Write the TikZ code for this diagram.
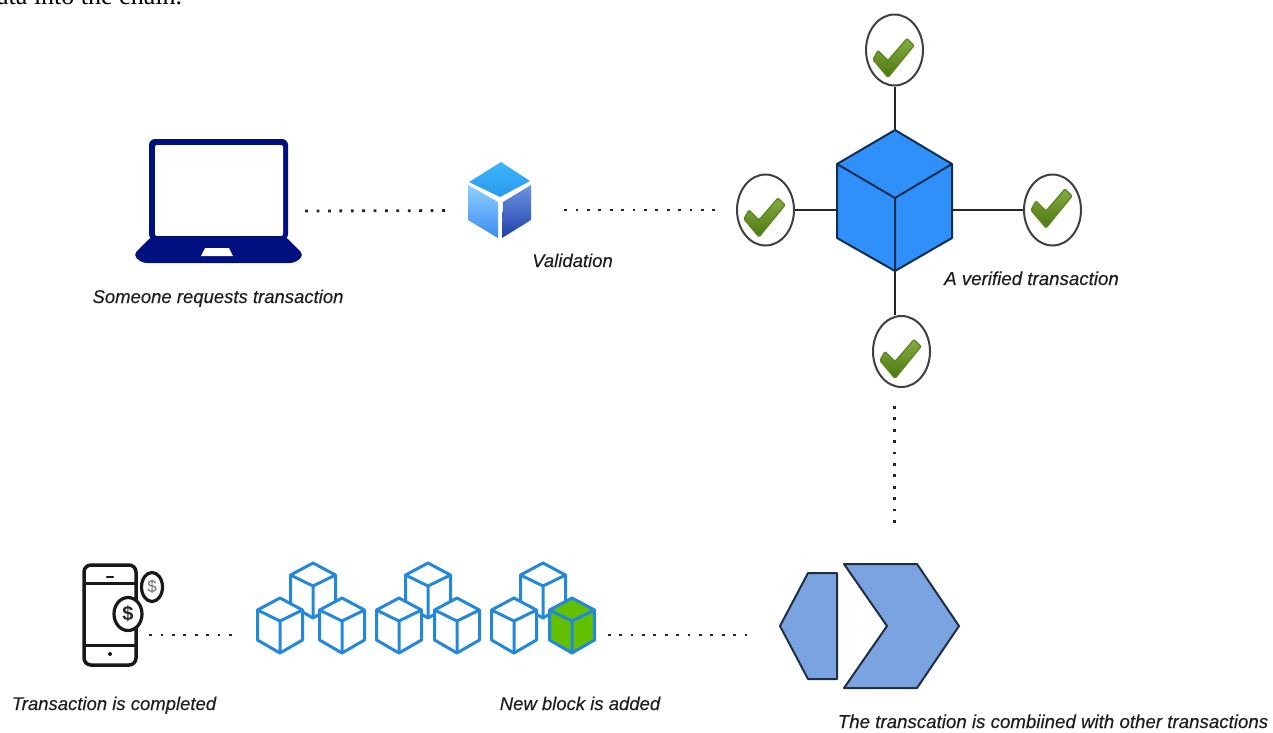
\documentclass[tikz,border=0pt]{standalone}
\usepackage{fontspec}
\setmainfont{Liberation Sans}
\newfontfamily\serifcut{Liberation Serif}
\usetikzlibrary{shapes.geometric,calc}
\definecolor{navy}{HTML}{00107F}
\definecolor{cubeblue}{HTML}{3090FA}
\definecolor{cubeedge}{HTML}{0E2F52}
\definecolor{lineblue}{HTML}{2388DC}
\definecolor{blockgreen}{HTML}{63C000}
\definecolor{hexblue}{HTML}{7BA3E0}
\definecolor{hexedge}{HTML}{1F2E45}
\definecolor{labelgrey}{HTML}{1E1E1E}
\definecolor{tickbottom}{HTML}{4C7610}
\definecolor{ticktop}{HTML}{86AD45}
\definecolor{topA}{HTML}{3CB6FA}
\definecolor{topB}{HTML}{2A98EE}
\definecolor{leftA}{HTML}{90CFFF}
\definecolor{leftB}{HTML}{3B8CF0}
\definecolor{rightA}{HTML}{6A94E2}
\definecolor{rightB}{HTML}{2040A8}
\tikzset{
  caption/.style={font=\fontsize{18.5}{20}\selectfont\itshape\addfontfeature{FakeBold=0.25}, text=labelgrey, inner sep=0pt, anchor=base},
  wide caption/.style={caption, font=\fontsize{18.7}{20}\selectfont\itshape\addfontfeature{FakeBold=0.25}},
  checkring/.style={ellipse, draw=black!75, line width=2pt, fill=white, inner sep=0pt, minimum width=57pt, minimum height=71pt},
  stem/.style={draw=black!85, line width=2pt},
  dotrow/.style={draw=black!85, line width=2.8pt, dash pattern=on 2.8pt off 8.6pt},
  ghost/.style={inner sep=0pt, draw=none},
  hexshape/.style={fill=hexblue, draw=hexedge, line width=2pt, line join=round},
  pics/tick/.style={code={
    \shadedraw[top color=ticktop, bottom color=tickbottom, draw=tickbottom!70!ticktop, line width=1.3pt, rounded corners=1.2pt]
      (-16.5,0) -- (-6.5,10) -- (12.5,-12) -- (19.5,-5) -- (-6.5,27) -- (-21.5,9) -- cycle;
  }},
  pics/block/.style={code={
    \draw[fill=#1, draw=lineblue, line width=3pt, line join=round]
      (0,-23) -- (22.5,-11) -- (22.5,19) -- (0,32) -- (-22.5,19) -- (-22.5,-11) -- cycle;
    \draw[draw=lineblue, line width=3pt, line join=round]
      (-22.5,-11) -- (0,0) -- (22.5,-11) (0,0) -- (0,32);
  }}
}
\begin{document}
\begin{tikzpicture}[x=1pt,y=-1pt]
\useasboundingbox (0,0) rectangle (1273,732);
\fill[white] (0,0) rectangle (1273,732);

% clipped line of text at the top edge
\node[font=\serifcut\fontsize{26}{28}\selectfont, inner sep=0pt, anchor=base west, text=black] (topline) at (-3,4) {ata into the chain.};

% laptop
\node[ghost, minimum width=167pt, minimum height=146pt] (laptop) at (218.5,211) {};
\fill[navy, rounded corners=6pt] (149,240) -- (149,139) -- (288,139) -- (288,240) -- cycle;
\fill[white, rounded corners=2pt] (155,145) -- (283,145) -- (283,236) -- (155,236) -- cycle;
\fill[navy, rounded corners=5pt] (152,236) -- (285,236) -- (304,255) -- (295,263) -- (142,263) -- (133,255) -- cycle;
\fill[white] (205,248) -- (229,248) -- (233,256) -- (201,256) -- cycle;

% small gradient cube
\node[ghost, minimum width=63pt, minimum height=76pt] (vcube) at (499.5,210.5) {};
\shade[top color=topA, bottom color=topB] (501,162) -- (530,181) -- (500,197) -- (469,182) -- cycle;
\shade[top color=leftA, bottom color=leftB] (468,185) -- (498,202) -- (498,238) -- (468,220) -- cycle;
\shade[top color=rightA, bottom color=rightB] (503,202) -- (531,185) -- (531,220) -- (502,238) -- cycle;

% verified transaction cube
\node[ghost, minimum width=115pt, minimum height=141pt] (cube) at (894.5,200.5) {};
\draw[fill=cubeblue, draw=cubeedge, line width=2pt, line join=round]
  (895,130) -- (952,164) -- (952,238) -- (895,271) -- (837,238) -- (837,164) -- cycle;
\draw[draw=cubeedge, line width=2pt, line join=round]
  (837,164) -- (895,198) -- (952,164) (895,198) -- (895,271);

\node[checkring] (chkT) at (894.5,50) {};
\node[checkring] (chkL) at (765.5,210) {};
\node[checkring] (chkR) at (1052.5,210) {};
\node[checkring] (chkB) at (901.5,351.5) {};
\pic at (894.5,50.5) {tick};
\pic at (765.5,210) {tick};
\pic at (1052.5,201) {tick};
\pic at (901.5,351.5) {tick};

\draw[stem] (chkT.south) -- (cube.north);
\draw[stem] (chkL.east) -- (chkL.east -| cube.west);
\draw[stem] (chkR.west) -- (chkR.west -| cube.east);
\draw[stem] (cube.south) -- (cube.south |- chkB.north);

% combine shapes
\node[ghost, minimum width=179pt, minimum height=124pt] (combine) at (869.5,626) {};
\draw[hexshape] (808,573) -- (837,573) -- (837,679) -- (808,679) -- (780,626) -- cycle;
\draw[hexshape] (844,564) -- (917,564) -- (959,626) -- (917,688) -- (844,688) -- (887,626) -- cycle;

% block groups
\node[ghost, minimum width=107pt, minimum height=90pt] (groupA) at (311.5,608) {};
\node[ghost, minimum width=105pt, minimum height=90pt] (groupC) at (543,608) {};
\pic at (313,586) {block=white};
\pic at (280,621) {block=white};
\pic at (342,621) {block=white};
\pic at (428,586) {block=white};
\pic at (399,621) {block=white};
\pic at (457,621) {block=white};
\pic at (543,586) {block=white};
\pic at (514,621) {block=white};
\pic at (572,621) {block=blockgreen};

% phone
\node[ghost, minimum width=52pt, minimum height=101pt] (phone) at (110,635) {};
\draw[black!90, line width=3.5pt, rounded corners=7pt] (84,565) rectangle (136,665);
\draw[black!90, line width=3pt] (84,583) -- (136,583) (84,645) -- (136,645);
\draw[black!90, line width=2.6pt, line cap=round] (107,577) -- (113,577);
\fill[black!90] (110,654) circle (2pt);
\node[ellipse, draw=black!90, line width=3.2pt, fill=white, inner sep=0pt, minimum width=28pt, minimum height=33pt, font=\fontsize{20}{20}\selectfont\bfseries, text=black!85] (coinA) at (128,614) {\$};
\node[ellipse, draw=black!90, line width=3.2pt, fill=white, inner sep=0pt, minimum width=21pt, minimum height=29pt, font=\fontsize{17}{17}\selectfont, text=black!55] (coinB) at (152,587) {\$};

% dotted connectors
\draw[dotrow, shorten <=3pt, shorten >=20pt] (laptop.east) -- (vcube.west);
\draw[dotrow, shorten <=33pt, shorten >=18pt] (vcube.east |- chkL.west) -- (chkL.west);
\draw[dotrow, shorten <=18pt, shorten >=41pt] (chkB.south -| cube.south) -- (combine.north -| cube.south);
\draw[dotrow, shorten <=13pt, shorten >=25pt] (phone.east) -- (groupA.west |- phone.east);
\draw[dotrow, shorten <=12pt, shorten >=31pt] (groupC.east |- combine.west) ++(0,9) -- ($(combine.west)+(0,9)$);

% captions
\node[caption] (capA) at (218,303) {Someone requests transaction};
\node[caption] (capB) at (572.5,267) {Validation};
\node[wide caption] (capC) at (1031.5,285) {A verified transaction};
\node[wide caption] (capD) at (1053,728) {The transcation is combiined with other transactions};
\node[caption] (capE) at (580,710) {New block is added};
\node[caption] (capF) at (114,710) {Transaction is completed};
\end{tikzpicture}
\end{document}
